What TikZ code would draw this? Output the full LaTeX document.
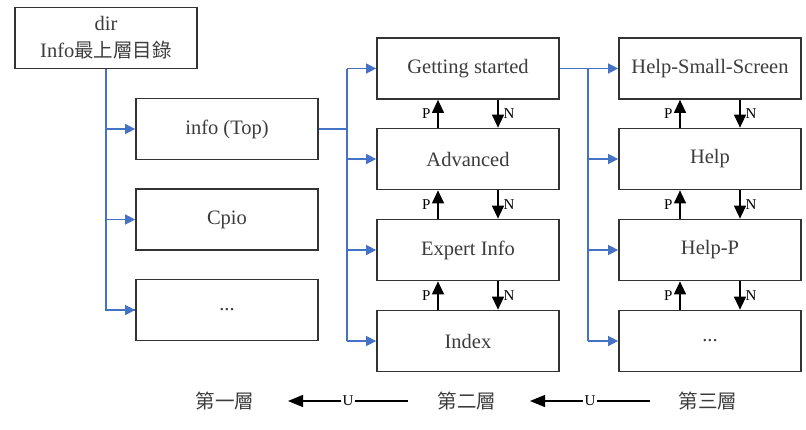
\documentclass[tikz,border=0pt]{standalone}
\usepackage{fontspec}
\setmainfont{Liberation Serif}
\newfontfamily\cjk{Noto Sans CJK TC}
\usetikzlibrary{arrows.meta}
\definecolor{lineblue}{RGB}{68,114,196}
\definecolor{boxgray}{RGB}{51,51,51}
\definecolor{txtgray}{RGB}{60,60,60}
\begin{document}
\begin{tikzpicture}[x=1pt,y=-1pt,
  box/.style={draw=boxgray,line width=1.7pt,minimum width=182pt,minimum height=61pt,inner sep=0pt,
    font=\fontsize{20.5}{27}\selectfont,text=txtgray},
  bl/.style={draw=lineblue,line width=1.4pt},
  blarrow/.style={bl,-{Triangle[length=10pt,width=10pt]}},
  pn/.style={draw=black,line width=1.2pt,-{Triangle[length=13pt,width=12pt]}},
  lab/.style={font=\fontsize{15}{17}\selectfont,text=black,inner sep=1pt},
  layer/.style={font=\cjk\fontsize{19.5}{22}\selectfont,text=txtgray},
  uarrow/.style={draw=black,line width=1.2pt,-{Triangle[length=15pt,width=12pt]}}
]
\useasboundingbox (0,0) rectangle (806,429);
% column 1
\node[box,align=center] (dir) at (106,38) {dir\\Info{\cjk\fontsize{19.5}{27}\selectfont 最上層目錄}};
\node[box] (info) at (227,129) {info (Top)};
\node[box] (cpio) at (227,219.5) {Cpio};
\node[box] (dotsa) at (227,310) {...};
% column 2
\node[box] (gs) at (468,68.5) {Getting started};
\node[box] (adv) at (468,159) {Advanced};
\node[box] (exp) at (468,250) {Expert Info};
\node[box] (idx) at (468,341) {Index};
% column 3
\node[box] (hss) at (710,68.5) {Help-Small-Screen};
\node[box] (help) at (710,159) {Help};
\node[box] (hp) at (710,250) {Help-P};
\node[box] (dotsb) at (710,341) {...};
% trunk 1
\draw[bl] (dir.south) |- (dotsa.west);
\draw[blarrow] (dir.south |- info.west) -- (info.west);
\draw[blarrow] (dir.south |- cpio.west) -- (cpio.west);
\draw[blarrow] (dir.south |- dotsa.west) -- (dotsa.west);
% trunk 2
\coordinate (t2) at (347,129);
\draw[bl] (info.east) -- (t2);
\draw[bl] (t2 |- gs.west) -- (t2 |- idx.west);
\foreach \n in {gs,adv,exp,idx} \draw[blarrow] (t2 |- \n.west) -- (\n.west);
% trunk 3
\coordinate (t3) at (588,68.5);
\draw[bl] (gs.east) -- (t3);
\draw[bl] (t3) -- (t3 |- dotsb.west);
\foreach \n in {hss,help,hp,dotsb} \draw[blarrow] (t3 |- \n.west) -- (\n.west);
% P / N arrows
\foreach \a/\b in {gs/adv,adv/exp,exp/idx,hss/help,help/hp,hp/dotsb}{
  \draw[pn] ([xshift=-30pt]\b.north) -- ([xshift=-30pt]\a.south)
     node[midway,lab,anchor=east,xshift=-6pt] {P};
  \draw[pn] ([xshift=30pt]\a.south) -- ([xshift=30pt]\b.north)
     node[midway,lab,anchor=west,xshift=4pt] {N};
}
% layers
\node[layer] (l1) at (225,401) {第一層};
\node[layer] (l2) at (467,401) {第二層};
\node[layer] (l3) at (708,401) {第三層};
\coordinate (u1s) at (408,401);
\coordinate (u1e) at (288,401);
\coordinate (u2s) at (650,401);
\coordinate (u2e) at (530,401);
\draw[uarrow] (u1s) -- (u1e) node[midway,fill=white,lab,inner sep=1.5pt] {U};
\draw[uarrow] (u2s) -- (u2e) node[midway,fill=white,lab,inner sep=1.5pt] {U};
\end{tikzpicture}
\end{document}
